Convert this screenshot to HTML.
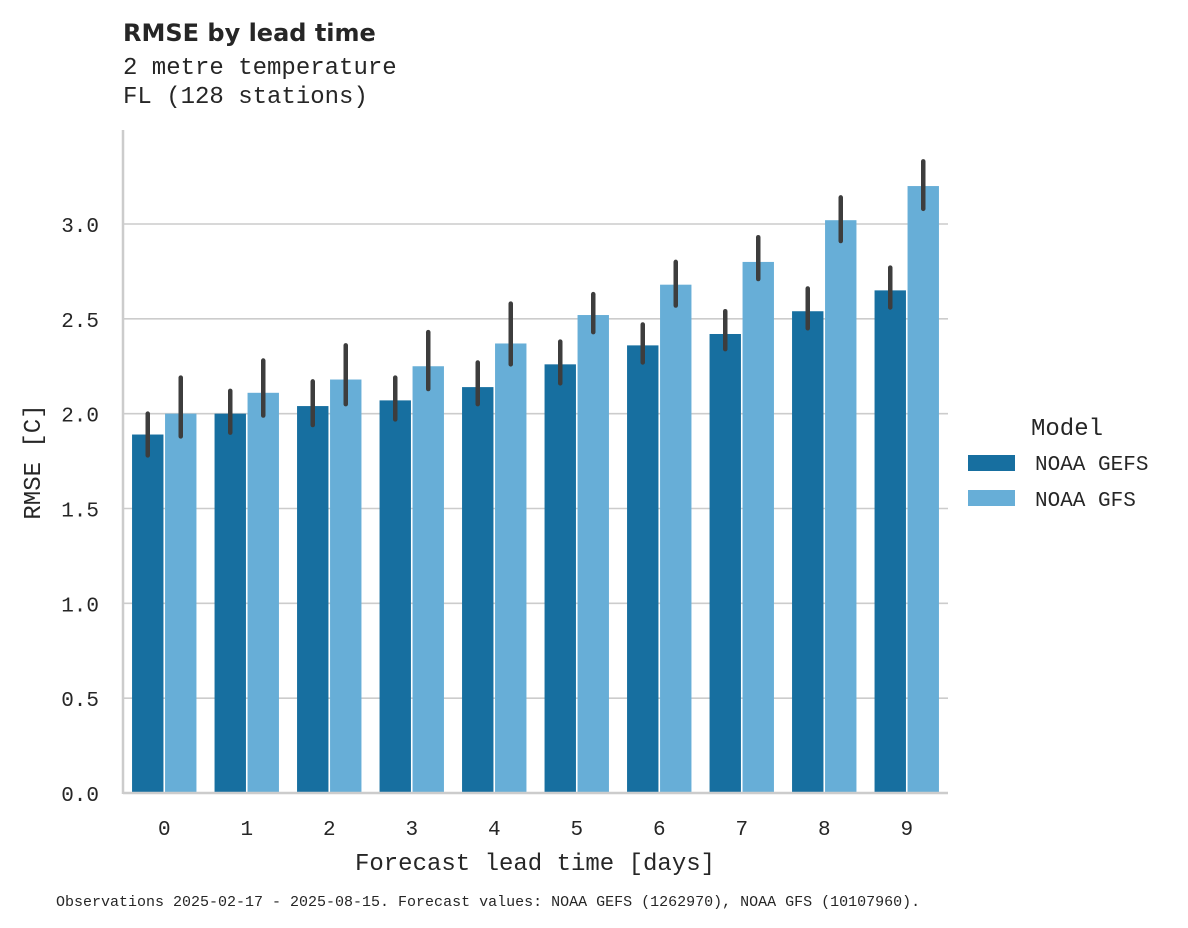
<!DOCTYPE html>
<html><head><meta charset="utf-8">
<style>
html,body{margin:0;padding:0;background:#fff;}
svg{display:block;}
text{fill:#262626;}
</style></head>
<body>
<svg id="chart" width="1188" height="928" xmlns="http://www.w3.org/2000/svg">
<text x="123" y="41" font-family="DejaVu Sans, sans-serif" font-weight="bold" font-size="24">RMSE by lead time</text>
<text x="123" y="74" font-family="Liberation Mono, monospace" font-size="24">2 metre temperature</text>
<text x="123" y="103" font-family="Liberation Mono, monospace" font-size="24">FL (128 stations)</text>
<g id="grid"></g>
<g id="bars"></g>
<g id="errs"></g>
<g id="axes"></g>
<text x="535" y="870" text-anchor="middle" font-family="Liberation Mono, monospace" font-size="24">Forecast lead time [days]</text>
<text transform="translate(40,462) rotate(-90)" text-anchor="middle" font-family="Liberation Mono, monospace" font-size="24">RMSE [C]</text>
<g>
<text x="1067" y="435" text-anchor="middle" font-family="Liberation Mono, monospace" font-size="24">Model</text>
<rect x="968" y="455" width="47" height="16" fill="#176fa0"/>
<text x="1035" y="470" font-family="Liberation Mono, monospace" font-size="21">NOAA GEFS</text>
<rect x="968" y="490" width="47" height="16" fill="#67aed7"/>
<text x="1035" y="506" font-family="Liberation Mono, monospace" font-size="21">NOAA GFS</text>
</g>
<text x="56" y="906" font-family="Liberation Mono, monospace" font-size="15">Observations 2025-02-17 - 2025-08-15. Forecast values: NOAA GEFS (1262970), NOAA GFS (10107960).</text>
</svg>
<script>
const categories = ["0","1","2","3","4","5","6","7","8","9"];
const gefsValues = [1.89,2.00,2.04,2.07,2.14,2.26,2.36,2.42,2.54,2.65];
const gfsValues = [2.00,2.11,2.18,2.25,2.37,2.52,2.68,2.80,3.02,3.20];
const gefsLow = [1.78,1.90,1.94,1.97,2.05,2.16,2.27,2.34,2.45,2.56];
const gefsHigh = [2.00,2.12,2.17,2.19,2.27,2.38,2.47,2.54,2.66,2.77];
const gfsLow = [1.88,1.99,2.05,2.13,2.26,2.43,2.57,2.71,2.91,3.08];
const gfsHigh = [2.19,2.28,2.36,2.43,2.58,2.63,2.80,2.93,3.14,3.33];
const yTicks = [0,0.5,1.0,1.5,2.0,2.5,3.0];
const yTickLabels = ["0.0","0.5","1.0","1.5","2.0","2.5","3.0"];

const NS="http://www.w3.org/2000/svg";
const X0=123,X1=948,Y0=793,PX_PER=189.67;
const y=v=>Y0-v*PX_PER;
const band=(X1-X0)/categories.length;
const xc=i=>X0+band*(i+0.5);
function mk(tag,attrs,parent){const e=document.createElementNS(NS,tag);for(const k in attrs)e.setAttribute(k,attrs[k]);document.getElementById(parent).appendChild(e);return e;}

yTicks.forEach((t,i)=>{
  const g=mk('line',{x1:X0,x2:X1,y1:y(t),y2:y(t),stroke:'#cccccc','stroke-width':1.6},'grid');
  
  
  const l=mk('text',{x:99,y:y(t)+8,'text-anchor':'end','font-family':'Liberation Mono, monospace','font-size':21},'axes');
  l.textContent=yTickLabels[i];
  
  
});
const bw=band*0.8/2;
categories.forEach((c,i)=>{
  const b1=mk('rect',{x:xc(i)-bw+0.8,y:y(gefsValues[i]),width:bw-1.6,height:Y0-y(gefsValues[i]),fill:'#176fa0'},'bars');
  
  
  const b2=mk('rect',{x:xc(i)+0.8,y:y(gfsValues[i]),width:bw-1.6,height:Y0-y(gfsValues[i]),fill:'#67aed7'},'bars');
  
  
  const e1=mk('line',{x1:xc(i)-bw/2,x2:xc(i)-bw/2,y1:y(gefsLow[i]),y2:y(gefsHigh[i]),stroke:'#3d3d3d','stroke-width':4.5,'stroke-linecap':'round'},'errs');
  
  
  const e2=mk('line',{x1:xc(i)+bw/2,x2:xc(i)+bw/2,y1:y(gfsLow[i]),y2:y(gfsHigh[i]),stroke:'#3d3d3d','stroke-width':4.5,'stroke-linecap':'round'},'errs');
  
  
  const t=mk('text',{x:xc(i),y:835,'text-anchor':'middle','font-family':'Liberation Mono, monospace','font-size':21},'axes');
  t.textContent=c;
  
  
});
const ls=mk('line',{x1:X0,x2:X0,y1:130,y2:Y0+1,stroke:'#cccccc','stroke-width':2.5},'axes');


const bs=mk('line',{x1:X0,x2:X1,y1:Y0,y2:Y0,stroke:'#cccccc','stroke-width':2.5},'axes');


</script>
</body></html>
